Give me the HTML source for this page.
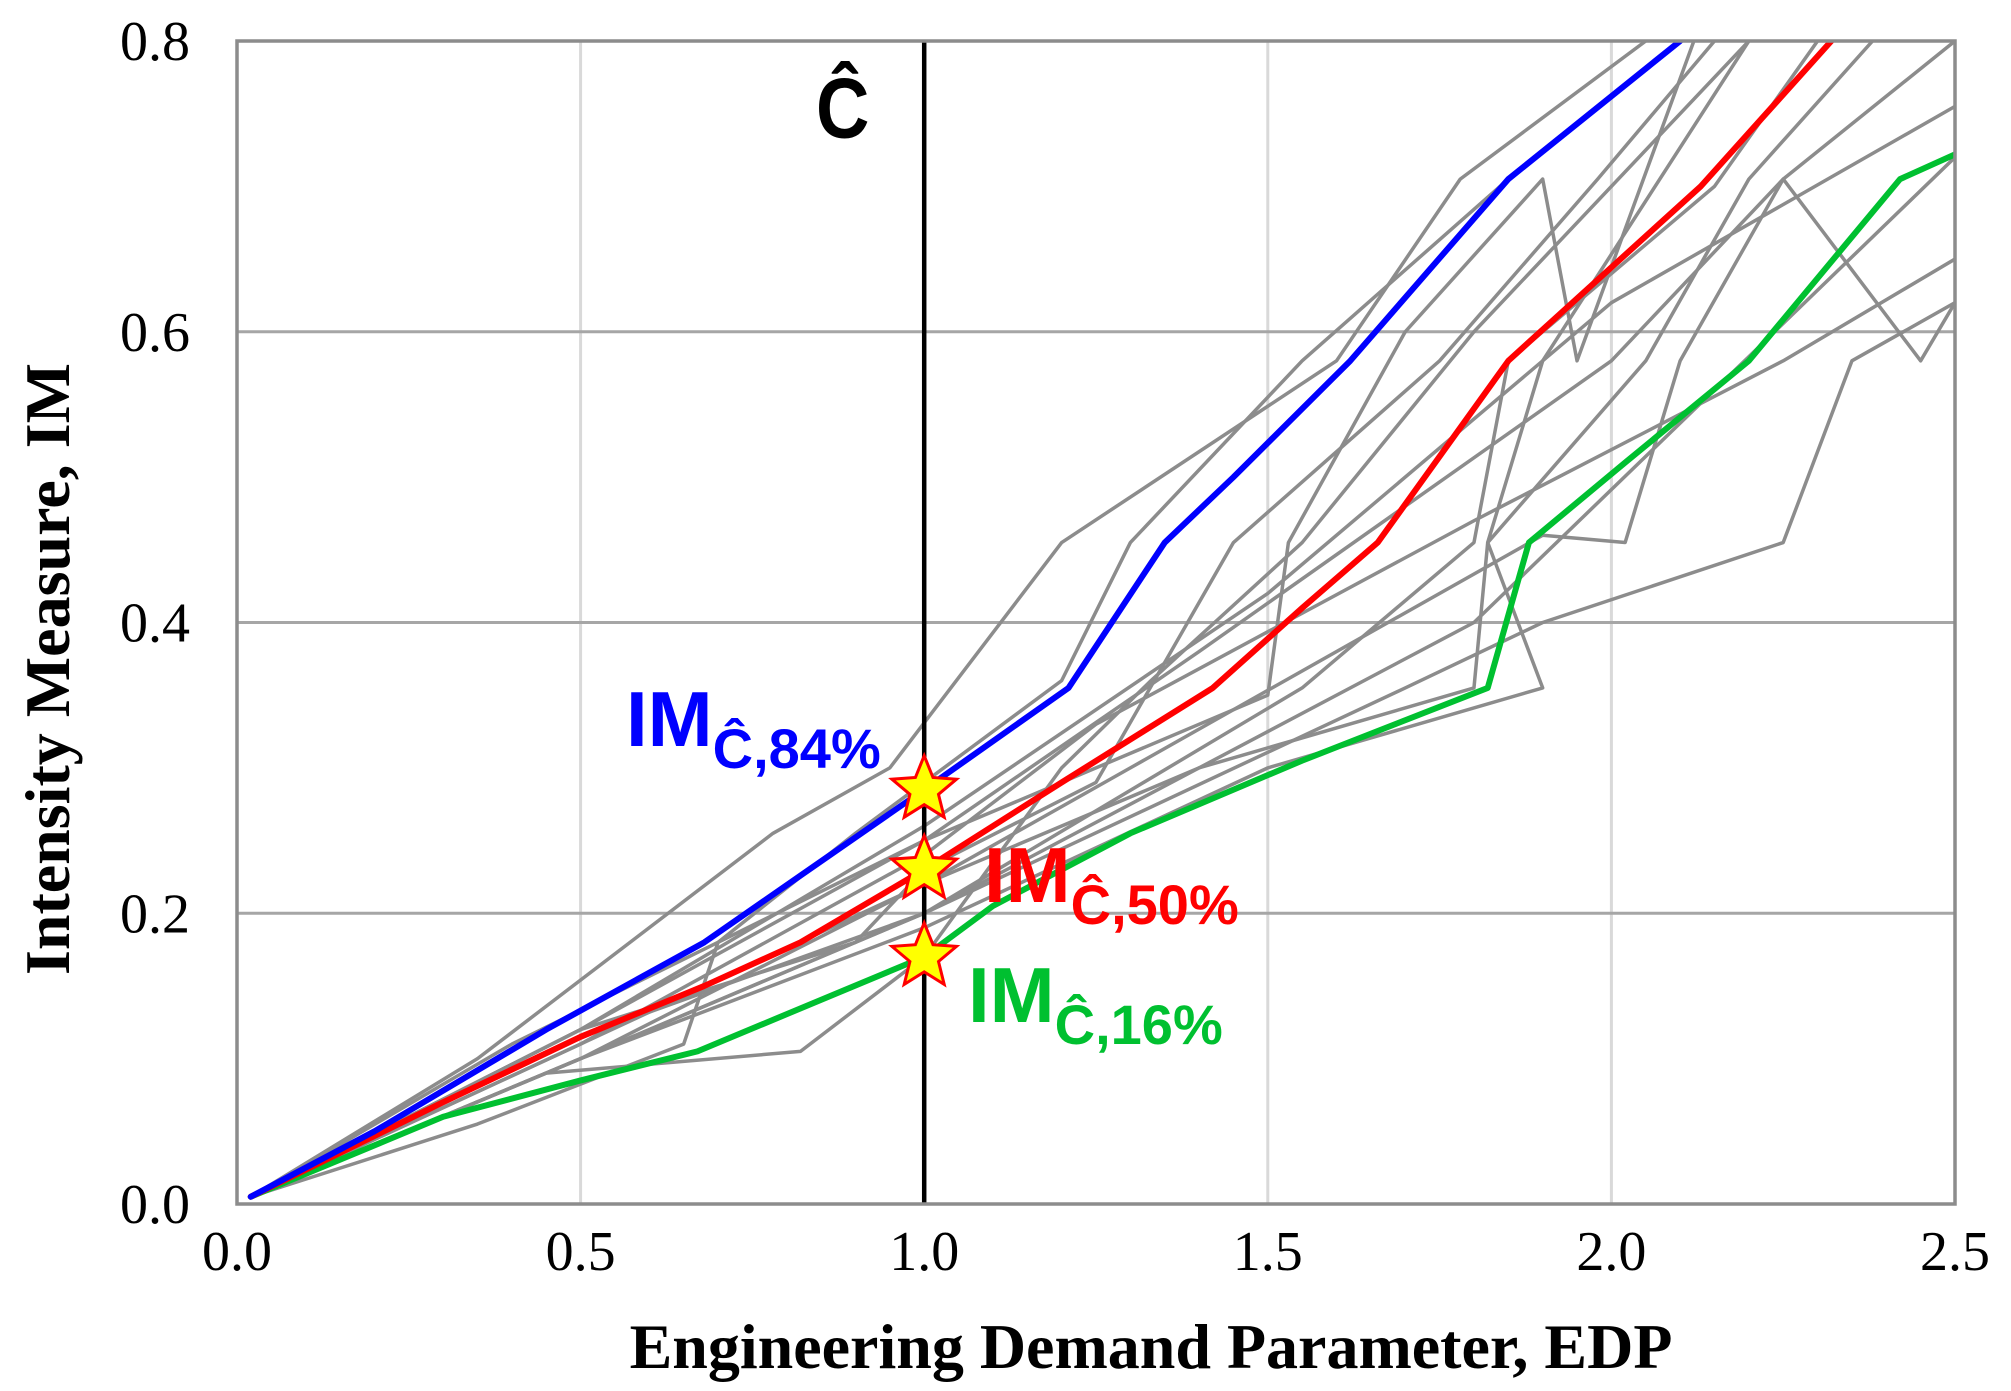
<!DOCTYPE html>
<html><head><meta charset="utf-8"><style>
html,body{margin:0;padding:0;background:#fff;}
svg{display:block;}
</style></head><body>
<svg id="chart" width="2011" height="1391" viewBox="0 0 2011 1391" xmlns="http://www.w3.org/2000/svg"></svg>
<script>
const xTicks=[0.0,0.5,1.0,1.5,2.0,2.5];
const yTicks=[0.0,0.2,0.4,0.6,0.8];
const xTickLabels=["0.0","0.5","1.0","1.5","2.0","2.5"];
const yTickLabels=["0.0","0.2","0.4","0.6","0.8"];
const greyX=[
[0.02,0.35,0.78,0.95,1.2,1.6,1.78,2.05],
[0.02,0.4,0.7,0.9,1.2,1.3,1.55,1.85,2.1],
[0.02,0.5,0.9,1.0,1.25,1.45,1.75,1.98,2.15],
[0.02,0.45,0.82,1.0,1.2,1.33,1.55,1.8,2.2],
[0.02,0.35,0.65,0.7,1.0,1.5,1.53,1.7,1.9,1.95,2.12],
[0.02,0.5,1.0,1.55,1.8,1.85,2.15,2.3],
[0.02,0.5,1.0,1.4,1.8,1.82,2.05,2.2,2.38],
[0.02,0.5,1.0,1.5,1.9,1.82,1.9,2.2],
[0.02,0.5,1.0,1.4,2.0,2.25,2.5],
[0.02,0.5,1.0,1.5,2.0,2.5],
[0.02,0.5,1.0,1.25,1.8,2.25,2.5],
[0.02,0.5,1.0,1.7,1.9,2.25,2.35,2.5],
[0.02,0.5,1.0,1.3,1.9,2.02,2.1,2.25,2.45,2.5],
[0.02,0.5,1.0,1.8,2.5]
];
const greyY=[
[0.005,0.1,0.255,0.3,0.455,0.58,0.705,0.8],
[0.005,0.11,0.18,0.255,0.36,0.455,0.58,0.705,0.8],
[0.005,0.12,0.18,0.23,0.29,0.455,0.58,0.705,0.8],
[0.005,0.09,0.105,0.17,0.3,0.36,0.455,0.6,0.8],
[0.005,0.055,0.11,0.18,0.25,0.35,0.455,0.6,0.705,0.58,0.8],
[0.005,0.1,0.2,0.355,0.455,0.58,0.7,0.8],
[0.005,0.11,0.22,0.3,0.355,0.455,0.58,0.705,0.8],
[0.005,0.1,0.19,0.3,0.355,0.455,0.58,0.8],
[0.005,0.12,0.25,0.38,0.58,0.705,0.8],
[0.005,0.12,0.26,0.42,0.62,0.755],
[0.005,0.11,0.24,0.33,0.47,0.58,0.65],
[0.005,0.1,0.2,0.355,0.4,0.455,0.58,0.62],
[0.005,0.1,0.22,0.3,0.46,0.455,0.58,0.705,0.58,0.62],
[0.005,0.115,0.2,0.4,0.72]
];
const blueX=[0.02,0.2,0.45,0.68,1.0,1.21,1.35,1.45,1.62,1.85,2.1];
const blueY=[0.005,0.05,0.12,0.18,0.285,0.355,0.455,0.5,0.58,0.705,0.8];
const redX=[0.02,0.3,0.5,0.68,0.82,1.0,1.2,1.42,1.55,1.66,1.85,2.13,2.32];
const redY=[0.005,0.07,0.115,0.15,0.18,0.23,0.29,0.355,0.41,0.455,0.58,0.70,0.8];
const greenX=[0.02,0.3,0.5,0.67,1.0,1.1,1.3,1.55,1.82,1.88,2.02,2.2,2.42,2.5];
const greenY=[0.005,0.06,0.085,0.105,0.17,0.205,0.255,0.305,0.355,0.455,0.51,0.58,0.705,0.722];
const capacity=1.0;
const starY=[0.285,0.23,0.17];

const L=237,R=1955,T=41,B=1204;
const xs=v=>L+(v/2.5)*(R-L);
const ys=v=>B-(v/0.8)*(B-T);
const NS="http://www.w3.org/2000/svg";
const svg=document.getElementById('chart');
function mk(tag,attrs,parent){const e=document.createElementNS(NS,tag);for(const k in attrs)e.setAttribute(k,attrs[k]);(parent||svg).appendChild(e);return e;}

const defs=mk('defs',{});
const cp=mk('clipPath',{id:'clip'},defs);
mk('rect',{x:L,y:T,width:R-L,height:B-T},cp);

xTicks.forEach((t,i)=>{
  const g=mk('line',{x1:xs(t),x2:xs(t),y1:T,y2:B,stroke:'#d9d9d9','stroke-width':3});
  
  
  const lb=mk('text',{x:xs(t),y:1270,'text-anchor':'middle','font-family':'"Liberation Serif",serif','font-size':56,fill:'#000'});
  lb.textContent=xTickLabels[i];
  
  
});
yTicks.forEach((t,i)=>{
  const g=mk('line',{x1:L,x2:R,y1:ys(t),y2:ys(t),stroke:'#a6a6a6','stroke-width':3});
  
  
  const lb=mk('text',{x:190,y:ys(t)+19,'text-anchor':'end','font-family':'"Liberation Serif",serif','font-size':56,fill:'#000'});
  lb.textContent=yTickLabels[i];
  
  
});

const plot=mk('g',{'clip-path':'url(#clip)'});


function line(X,Y,color,w,name){
  const p=mk('polyline',{points:X.map((x,i)=>xs(x)+','+ys(Y[i])).join(' '),fill:'none',stroke:color,'stroke-width':w,'stroke-linejoin':'round','stroke-linecap':'round'},plot);
  
  
}
greyX.forEach((X,i)=>line(X,greyY[i],'#8c8c8c',3.5,'record-curve'));
line(greenX,greenY,'#00c030',6,'im-16-curve');
line(redX,redY,'#ff0000',6,'im-50-curve');
line(blueX,blueY,'#0000ff',6,'im-84-curve');

const cl=mk('line',{x1:xs(capacity),x2:xs(capacity),y1:T,y2:B,stroke:'#000','stroke-width':4.5});



const fr=mk('rect',{x:L,y:T,width:R-L,height:B-T,fill:'none',stroke:'#8c8c8c','stroke-width':3.5});



function starPts(cx,cy,ro,ri){let s=[];for(let i=0;i<10;i++){const a=-Math.PI/2+i*Math.PI/5;const r=i%2?ri:ro;s.push((cx+r*Math.cos(a)).toFixed(1)+','+(cy+r*Math.sin(a)).toFixed(1));}return s.join(' ');}
starY.forEach(v=>{
  const s=mk('polygon',{points:starPts(xs(capacity),ys(v),34,15),fill:'#ffff00',stroke:'#ff0000','stroke-width':3});
  
  
});
</script>
<div style="position:absolute;left:0;top:0;width:2011px;height:1391px;pointer-events:none;font-family:'Liberation Sans Narrow','Liberation Sans',sans-serif;font-weight:bold;">
  <div style="position:absolute;left:816px;top:72px;font-size:74px;color:#000;line-height:1;transform:scaleY(1.15);">Ĉ</div>
  <div style="position:absolute;left:626px;top:680px;color:#0000ff;line-height:1;white-space:nowrap;"><span style="font-size:78px;">IM</span><span style="font-size:56px;position:relative;top:22px;">Ĉ,84%</span></div>
  <div style="position:absolute;left:984px;top:836px;color:#ff0000;line-height:1;white-space:nowrap;"><span style="font-size:78px;">IM</span><span style="font-size:56px;position:relative;top:22px;">Ĉ,50%</span></div>
  <div style="position:absolute;left:968px;top:956px;color:#00c030;line-height:1;white-space:nowrap;"><span style="font-size:78px;">IM</span><span style="font-size:56px;position:relative;top:22px;">Ĉ,16%</span></div>
  <div style="position:absolute;left:0;width:2302px;top:1310px;text-align:center;font-family:'Liberation Serif',serif;font-size:64px;color:#000;">Engineering Demand Parameter, EDP</div>
  <div style="position:absolute;left:48px;top:670px;width:0;height:0;"><div style="position:absolute;left:-600px;top:-38px;width:1200px;text-align:center;transform:rotate(-90deg);font-family:'Liberation Serif',serif;font-size:64px;color:#000;">Intensity Measure, IM</div></div>
</div>
</body></html>
